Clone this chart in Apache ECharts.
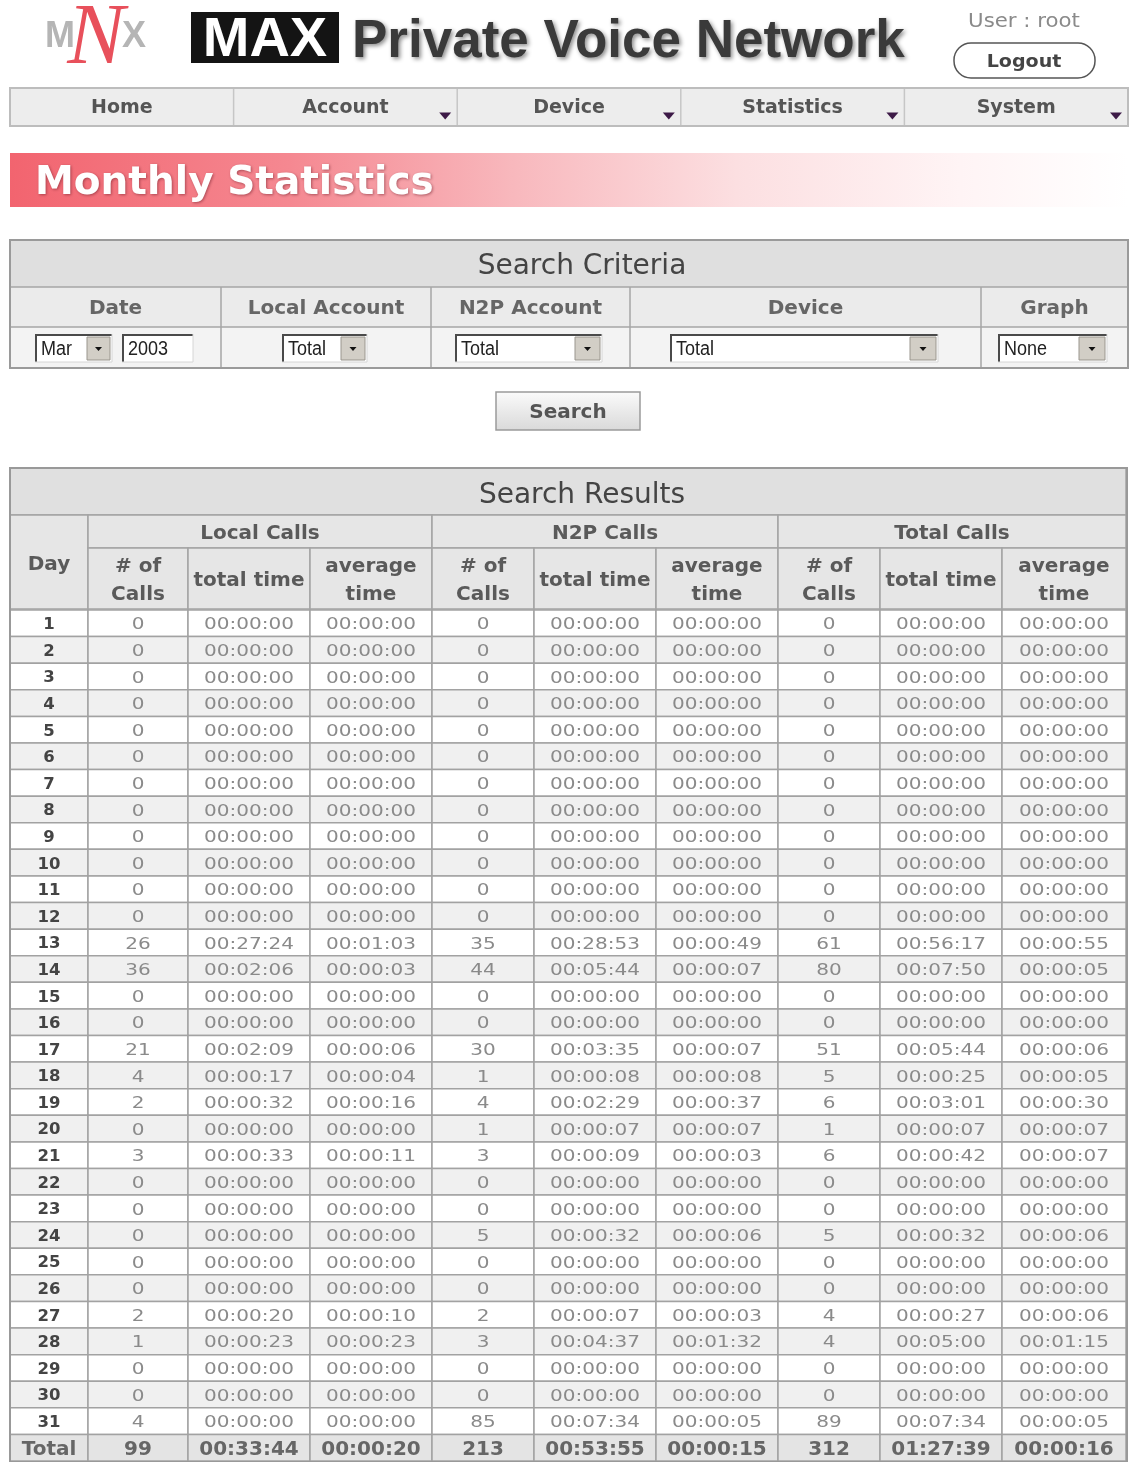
<!DOCTYPE html>
<html>
<head>
<meta charset="utf-8">
<title>Monthly Statistics</title>
<script src="https://cdn.jsdelivr.net/npm/echarts@6/dist/echarts.min.js"></script>
<style>
html,body{margin:0;padding:0;background:#fff;}
#main{width:1130px;height:1462px;}
</style>
</head>
<body>
<div id="main"></div>
<script>
// table data, one array per column
var Z = '00:00:00';
var days = ['1','2','3','4','5','6','7','8','9','10','11','12','13','14','15','16',
  '17','18','19','20','21','22','23','24','25','26','27','28','29','30','31','Total'];
var localCalls = [0,0,0,0,0,0,0,0,0,0,0,0,26,36,0,0,21,4,2,0,3,0,0,0,0,0,2,1,0,0,4,99];
var localTime = [Z,Z,Z,Z,Z,Z,Z,Z,Z,Z,Z,Z,'00:27:24','00:02:06',Z,Z,'00:02:09','00:00:17','00:00:32',Z,
  '00:00:33',Z,Z,Z,Z,Z,'00:00:20','00:00:23',Z,Z,Z,'00:33:44'];
var localAvg = [Z,Z,Z,Z,Z,Z,Z,Z,Z,Z,Z,Z,'00:01:03','00:00:03',Z,Z,'00:00:06','00:00:04','00:00:16',Z,
  '00:00:11',Z,Z,Z,Z,Z,'00:00:10','00:00:23',Z,Z,Z,'00:00:20'];
var n2pCalls = [0,0,0,0,0,0,0,0,0,0,0,0,35,44,0,0,30,1,4,1,3,0,0,5,0,0,2,3,0,0,85,213];
var n2pTime = [Z,Z,Z,Z,Z,Z,Z,Z,Z,Z,Z,Z,'00:28:53','00:05:44',Z,Z,'00:03:35','00:00:08','00:02:29','00:00:07',
  '00:00:09',Z,Z,'00:00:32',Z,Z,'00:00:07','00:04:37',Z,Z,'00:07:34','00:53:55'];
var n2pAvg = [Z,Z,Z,Z,Z,Z,Z,Z,Z,Z,Z,Z,'00:00:49','00:00:07',Z,Z,'00:00:07','00:00:08','00:00:37','00:00:07',
  '00:00:03',Z,Z,'00:00:06',Z,Z,'00:00:03','00:01:32',Z,Z,'00:00:05','00:00:15'];
var totalCalls = [0,0,0,0,0,0,0,0,0,0,0,0,61,80,0,0,51,5,6,1,6,0,0,5,0,0,4,4,0,0,89,312];
var totalTime = [Z,Z,Z,Z,Z,Z,Z,Z,Z,Z,Z,Z,'00:56:17','00:07:50',Z,Z,'00:05:44','00:00:25','00:03:01','00:00:07',
  '00:00:42',Z,Z,'00:00:32',Z,Z,'00:00:27','00:05:00',Z,Z,'00:07:34','01:27:39'];
var totalAvg = [Z,Z,Z,Z,Z,Z,Z,Z,Z,Z,Z,Z,'00:00:55','00:00:05',Z,Z,'00:00:06','00:00:05','00:00:30','00:00:07',
  '00:00:07',Z,Z,'00:00:06',Z,Z,'00:00:06','00:01:15',Z,Z,'00:00:05','00:00:16'];

var groupHeaders = ['Local Calls', 'N2P Calls', 'Total Calls'];
var subHeaders = ['# of\nCalls', 'total time', 'average\ntime'];
var navItems = ['Home', 'Account', 'Device', 'Statistics', 'System'];
var criteriaLabels = ['Date', 'Local Account', 'N2P Account', 'Device', 'Graph'];

var columns = [days, localCalls, localTime, localAvg, n2pCalls, n2pTime, n2pAvg, totalCalls, totalTime, totalAvg];
// layout: pixel width of every result column
var colWidths = [78, 100, 122, 122, 102, 122, 122, 102, 122, 124];
var colStart = [];
var acc = 0;
colWidths.forEach(function (w) { colStart.push(acc); acc += w; });
var tableW = acc;

var cells = [];
for (var r = 0; r < days.length; r++) {
  for (var c = 0; c < columns.length; c++) cells.push([c, r]);
}

var FONT = '"DejaVu Sans"';

function txt(x, y, text, font, fill, align, extra) {
  var el = {
    type: 'text', x: x, y: y + 2,
    style: { text: text, font: font, fill: fill,
      align: align || 'center', verticalAlign: 'middle',
      textAlign: align || 'center', textVerticalAlign: 'middle' }
  };
  if (extra) for (var k in extra) {
    if (k === 'style') { for (var s in extra.style) el.style[s] = extra.style[s]; }
    else el[k] = extra[k];
  }
  return el;
}
function box(x, y, w, h, fill, stroke, lw, extra) {
  var el = { type: 'rect', shape: { x: x, y: y, width: w, height: h },
    style: { fill: fill || 'none', stroke: stroke || null, lineWidth: lw || 0 } };
  if (extra) for (var k in extra) el[k] = extra[k];
  return el;
}
function line(x1, y1, x2, y2, color, lw) {
  return { type: 'line', shape: { x1: x1, y1: y1, x2: x2, y2: y2 }, style: { stroke: color, lineWidth: lw || 1 } };
}
function tri(cx, cy, w, h, color) {
  return { type: 'polygon', shape: { points: [[cx - w / 2, cy - h / 2], [cx + w / 2, cy - h / 2], [cx, cy + h / 2]] },
    style: { fill: color } };
}
function select(x, y, w, h, label, btnW) {
  var els = [
    box(x, y, w, h, '#ffffff'),
    { type: 'polyline', shape: { points: [[x + 1, y + h], [x + 1, y + 1], [x + w, y + 1]] }, style: { stroke: '#4a4a4a', lineWidth: 2, fill: null } },
    { type: 'polyline', shape: { points: [[x + w, y], [x + w, y + h], [x, y + h]] }, style: { stroke: '#d6d6d6', lineWidth: 1, fill: null } },
    txt(x + 6, y + h / 2 - 1, label, '20px "Liberation Sans"', '#222', 'left', { scaleX: 0.9 })
  ];
  if (btnW) {
    var bx = x + w - btnW - 2;
    els.push(box(bx, y + 3, btnW, h - 5, '#d2cec6', '#9a968e', 1));
    els.push(tri(bx + btnW / 2, y + h / 2 + 1, 7, 4, '#111'));
  }
  return els;
}

var g = [];
// logo
g.push(txt(60, 35, 'M', 'bold 36px "Liberation Sans"', '#b5b5b5'));
g.push(txt(134, 35, 'X', 'bold 36px "Liberation Sans"', '#b5b5b5'));
g.push(txt(96, 38, 'N', 'italic 86px "Liberation Serif"', '#e8505b'));
// title
g.push(box(191, 12, 148, 51, '#141414'));
g.push(txt(265, 39, 'MAX', 'bold 56px "Liberation Sans"', '#ffffff'));
g.push(txt(352, 40, 'Private Voice Network', 'bold 53px "Liberation Sans"', '#3a3a3a', 'left',
  { style: { textShadowColor: 'rgba(0,0,0,0.45)', textShadowBlur: 4, textShadowOffsetX: 2, textShadowOffsetY: 2 } }));
g.push(txt(1024, 20, 'User : root', '19px ' + FONT, '#8a8a8a', 'center', { scaleX: 1.12 }));
g.push({ type: 'rect', shape: { x: 954, y: 43, width: 141, height: 35, r: 17 }, style: { fill: '#fff', stroke: '#555', lineWidth: 1.5 } });
g.push(txt(1024, 60, 'Logout', 'bold 18px ' + FONT, '#444', 'center', { scaleX: 1.06 }));

// navigation bar
var navL = 10, navR = 1128, navW = (navR - navL) / navItems.length;
g.push(box(navL, 88, navR - navL, 38, '#ededed', '#bdbdbd', 2));
navItems.forEach(function (name, i) {
  var x0 = navL + i * navW;
  if (i > 0) g.push(line(x0, 89, x0, 125, '#c6c6c6', 1.5));
  g.push(txt(x0 + navW / 2, 106, name, 'bold 19px ' + FONT, '#555'));
  if (i > 0) g.push(tri(x0 + navW - 12, 116, 12, 7, '#3d1a47'));
});

// banner
g.push(box(10, 153, 1118, 54, {
  type: 'linear', x: 0, y: 0, x2: 1, y2: 0,
  colorStops: [
    { offset: 0, color: '#f2646f' }, { offset: 0.25, color: '#f58891' },
    { offset: 0.45, color: '#f8b8bd' }, { offset: 0.65, color: '#fcdfe1' },
    { offset: 0.85, color: '#fff4f5' }, { offset: 1, color: '#ffffff' }]
}));
g.push(txt(35, 182, 'Monthly Statistics', 'bold 39px ' + FONT, '#ffffff', 'left',
  { style: { textShadowColor: 'rgba(110,30,40,0.55)', textShadowBlur: 3, textShadowOffsetX: 1, textShadowOffsetY: 1 } }));

// search criteria
var critEdges = [10, 221, 431, 630, 981, 1128];
g.push(box(10, 240, 1118, 47, '#dfdfdf'));
g.push(box(10, 287, 1118, 40, '#ebebeb'));
g.push(box(10, 327, 1118, 41, '#f3f3f3'));
g.push(line(10, 287, 1128, 287, '#a6a6a6', 1.5));
g.push(line(10, 327, 1128, 327, '#a6a6a6', 1.5));
critEdges.slice(1, -1).forEach(function (x) { g.push(line(x, 287, x, 368, '#a6a6a6', 1.5)); });
g.push(box(10, 240, 1118, 128, null, '#9a9a9a', 2));
g.push(txt(582, 265, 'Search Criteria', '28px ' + FONT, '#444'));
criteriaLabels.forEach(function (name, i) {
  g.push(txt((critEdges[i] + critEdges[i + 1]) / 2, 307, name, 'bold 20px ' + FONT, '#666'));
});
g = g.concat(select(35, 334, 77, 28, 'Mar', 23));
g = g.concat(select(122, 334, 71, 28, '2003', 0));
g = g.concat(select(282, 334, 85, 28, 'Total', 24));
g = g.concat(select(455, 334, 147, 28, 'Total', 25));
g = g.concat(select(670, 334, 268, 28, 'Total', 26));
g = g.concat(select(998, 334, 109, 28, 'None', 26));

// search button
g.push(box(496, 392, 144, 38, {
  type: 'linear', x: 0, y: 0, x2: 0, y2: 1,
  colorStops: [{ offset: 0, color: '#fbfbfb' }, { offset: 1, color: '#d9d9d9' }]
}, '#9a9a9a', 1.5));
g.push(txt(568, 411, 'Search', 'bold 20px ' + FONT, '#555'));

// search results header
var tX = 10, edges = colStart.map(function (s) { return tX + s; });
edges.push(tX + tableW);
var hdFill = '#e6e6e6', hdLine = '#a4a4a4';
g.push(box(tX, 468, tableW, 47, '#e0e0e0', hdLine, 1.5));
g.push(txt(582, 494, 'Search Results', '28px ' + FONT, '#444'));
g.push(box(edges[0], 515, edges[1] - edges[0], 94, hdFill, hdLine, 1.5));
g.push(txt((edges[0] + edges[1]) / 2, 563, 'Day', 'bold 20px ' + FONT, '#5a5a5a'));
groupHeaders.forEach(function (name, gi) {
  var a = edges[1 + gi * 3], b = edges[4 + gi * 3];
  g.push(box(a, 515, b - a, 33, hdFill, hdLine, 1.5));
  g.push(txt((a + b) / 2, 532, name, 'bold 20px ' + FONT, '#5a5a5a'));
  subHeaders.forEach(function (sub, si) {
    var x0 = edges[1 + gi * 3 + si], x1 = edges[2 + gi * 3 + si];
    g.push(box(x0, 548, x1 - x0, 61, hdFill, hdLine, 1.5));
    g.push(txt((x0 + x1) / 2, 579, sub, 'bold 20px ' + FONT, '#5a5a5a', 'center',
      { style: { lineHeight: 28 } }));
  });
});
g.push(box(tX, 468, tableW + 1, 994, null, '#999999', 2, { z: 100 }));

function renderCell(params, api) {
  var c = api.value(0), r = api.value(1);
  var a = api.coord([colStart[c], r]);
  var b = api.coord([colStart[c] + colWidths[c], r]);
  var h = api.size([0, 1])[1];
  var isTotal = r === days.length - 1;
  var fill = isTotal ? '#e4e4e4' : (r % 2 ? '#f0f0f0' : '#ffffff');
  var font, color, sx;
  if (isTotal) { font = 'bold 20px ' + FONT; color = '#666'; sx = 1; }
  else if (c === 0) { font = 'bold 15px ' + FONT; color = '#444'; sx = 1.1; }
  else { font = '16px ' + FONT; color = '#8a8a8a'; sx = 1.25; }
  return {
    type: 'group',
    children: [
      { type: 'rect', shape: { x: a[0], y: a[1] - h / 2, width: b[0] - a[0], height: h },
        style: { fill: fill, stroke: '#a2a2a2', lineWidth: 1.5 } },
      { type: 'text', x: (a[0] + b[0]) / 2, y: a[1] + 2, scaleX: sx,
        style: { text: String(columns[c][r]), font: font, fill: color,
          align: 'center', verticalAlign: 'middle', textAlign: 'center', textVerticalAlign: 'middle' } }
    ]
  };
}

var chart = echarts.init(document.getElementById('main'));
chart.setOption({
  animation: false,
  backgroundColor: '#ffffff',
  grid: { left: tX, top: 610, width: tableW, height: 851, outerBoundsMode: 'none' },
  xAxis: { type: 'value', min: 0, max: tableW, show: false },
  yAxis: { type: 'category', data: days, inverse: true, show: false },
  graphic: { elements: g },
  series: [{
    type: 'custom',
    renderItem: renderCell,
    data: cells,
    encode: { x: 0, y: 1 },
    silent: true
  }]
});
</script>
</body>
</html>
